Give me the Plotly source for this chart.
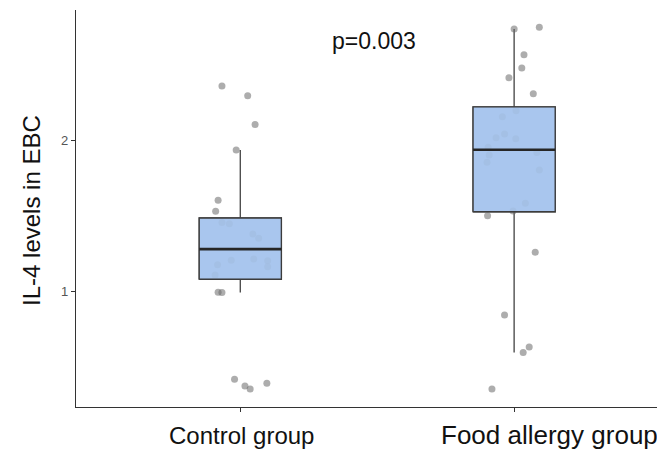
import plotly.graph_objects as go

# ---------------- data ----------------
groups = ["Control group", "Food allergy group"]
group_pos = [1, 2]

# box statistics
q1 = [1.082, 1.527]
median = [1.281, 1.936]
q3 = [1.486, 2.218]
lower_fence = [0.995, 0.600]
upper_fence = [1.934, 2.732]

# jittered observations: values and horizontal jitter offsets
control_values = [2.356, 2.292, 2.103, 1.934, 1.603, 1.530, 1.457, 1.448, 1.380, 1.352,
                  1.207, 1.216, 1.204, 1.165, 1.178, 1.110, 0.997, 0.995,
                  0.423, 0.378, 0.359, 0.396]
control_jitter = [-0.067, 0.027, 0.054, -0.015, -0.081, -0.090, -0.067, -0.040, 0.046, 0.067,
                  -0.033, 0.049, 0.100, 0.100, -0.083, -0.092, -0.081, -0.067,
                  -0.021, 0.017, 0.036, 0.097]
food_values = [2.732, 2.743, 2.562, 2.475, 2.411, 2.305, 2.193, 2.154, 2.040, 2.015,
               2.009, 1.952, 1.901, 1.917, 1.853, 1.802, 1.583, 1.532, 1.501, 1.260,
               0.846, 0.635, 0.600, 0.359]
food_jitter = [0.000, 0.092, 0.036, 0.028, -0.019, 0.070, 0.007, -0.043, -0.035, -0.066,
               0.006, -0.095, -0.091, 0.083, -0.099, 0.092, 0.041, -0.004, -0.097, 0.077,
               -0.035, 0.055, 0.033, -0.081]

p_label = "p=0.003"
y_title = "IL-4 levels in EBC"
y_ticks = [1, 2]

box_width = 0.30
box_fill = "#A9C6EE"
FONT = "Liberation Sans, Arial, sans-serif"

# ---------------- figure ----------------
fig = go.Figure()

# box with whiskers
fig.add_trace(go.Box(
    x=group_pos, q1=q1, median=median, q3=q3,
    lowerfence=lower_fence, upperfence=upper_fence,
    width=box_width, fillcolor=box_fill, whiskerwidth=0,
    line=dict(color="#505050", width=1.4),
    boxpoints=False, showlegend=False, hoverinfo="skip",
))

# jittered points
pts_x = [group_pos[0] + j for j in control_jitter] + [group_pos[1] + j for j in food_jitter]
pts_y = control_values + food_values
fig.add_trace(go.Scatter(
    x=pts_x, y=pts_y, mode="markers",
    marker=dict(size=7, color="rgba(105,105,105,0.55)", line=dict(width=0)),
    showlegend=False, hoverinfo="skip",
))

# semi-transparent box body drawn over the points
bx, by = [], []
mx, my = [], []
for c, a, b, m in zip(group_pos, q1, q3, median):
    l, r = c - box_width / 2, c + box_width / 2
    bx += [l, r, r, l, l, None]
    by += [a, a, b, b, a, None]
    mx += [l, r, None]
    my += [m, m, None]
fig.add_trace(go.Scatter(
    x=bx, y=by, mode="lines", fill="toself",
    fillcolor="rgba(169,198,238,0.88)",
    line=dict(color="#3c3c3c", width=1.3),
    showlegend=False, hoverinfo="skip",
))
fig.add_trace(go.Scatter(
    x=mx, y=my, mode="lines",
    line=dict(color="#262626", width=2.6),
    showlegend=False, hoverinfo="skip",
))

# p-value annotation
fig.add_annotation(x=1.49, y=2.655, xref="x", yref="y", text=p_label, showarrow=False,
                   font=dict(family=FONT, size=23, color="#111"))

# y-axis title
fig.add_annotation(x=-0.075, y=0.494, xref="paper", yref="paper", text=y_title,
                   showarrow=False, textangle=-90, xanchor="center", yanchor="middle",
                   font=dict(family=FONT, size=24, color="#111"))

# category labels (below the axis)
label_sizes = [24, 26]
label_y = [-0.071, -0.071]
label_shift = [0.003, 0.128]
for pos, name, fs, ly, sh in zip(group_pos, groups, label_sizes, label_y, label_shift):
    fig.add_annotation(x=pos + sh, y=ly, xref="x", yref="paper", text=name, showarrow=False,
                       yanchor="middle", xanchor="center",
                       font=dict(family=FONT, size=fs, color="#111"))

# page body has an 8px margin, so the figure is sized to fit the window
fig.update_layout(
    width=657, height=444,
    margin=dict(l=68, r=3, t=2, b=45),
    paper_bgcolor="white", plot_bgcolor="white",
    font=dict(family=FONT),
    showlegend=False,
)
fig.update_xaxes(
    range=[0.4, 2.54], tickvals=group_pos, ticktext=["", ""],
    showline=True, linecolor="#333", linewidth=1.2,
    ticks="outside", ticklen=4, tickcolor="#333", tickwidth=1.2,
    showgrid=False, zeroline=False,
)
fig.update_yaxes(
    range=[0.24, 2.857], tickvals=y_ticks, ticktext=[str(t) for t in y_ticks],
    showline=True, linecolor="#333", linewidth=1.2,
    ticks="outside", ticklen=4, tickcolor="#333", tickwidth=1.2,
    tickfont=dict(size=13, color="#555"),
    showgrid=False, zeroline=False,
)

fig.write_html("out.html")
